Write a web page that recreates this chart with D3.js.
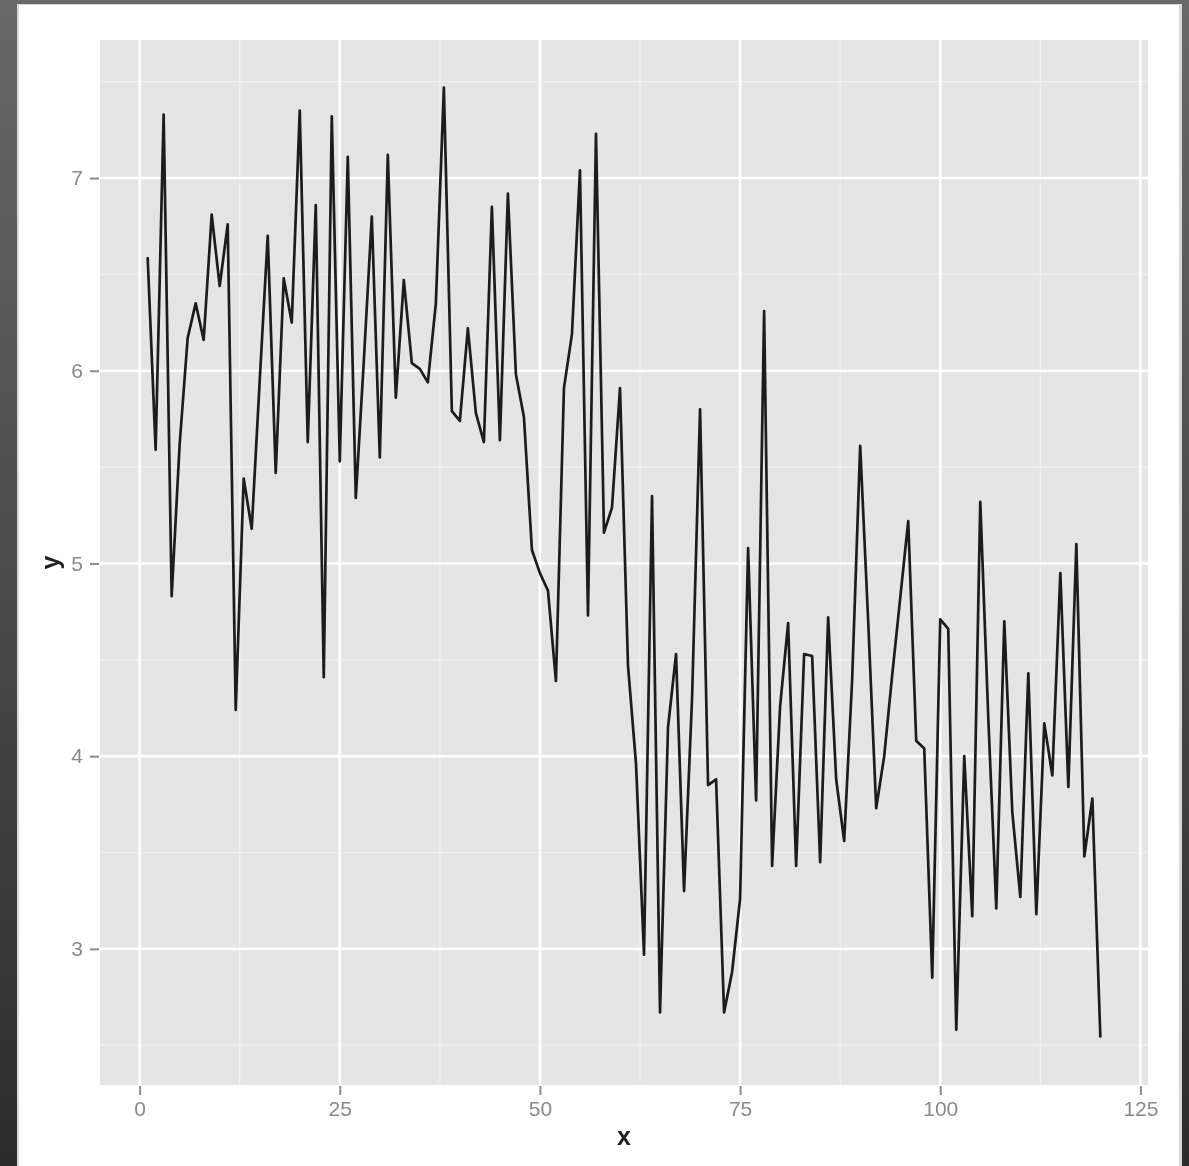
<!DOCTYPE html>
<html>
<head>
<meta charset="utf-8">
<script src="https://cdn.jsdelivr.net/npm/d3@7"></script>
<style>
  html, body { margin: 0; padding: 0; background: #444; }
  svg { display: block; filter: blur(0.55px); }
</style>
</head>
<body>
<svg id="chart" width="1189" height="1166"></svg>
<script>
// ---- data ----
const xValues = d3.range(1, 121);
const yValues = [
  6.59, 5.59, 7.33, 4.83, 5.62, 6.17, 6.35, 6.16, 6.81, 6.44,
  6.76, 4.24, 5.44, 5.18, 5.95, 6.70, 5.47, 6.48, 6.25, 7.35,
  5.63, 6.86, 4.41, 7.32, 5.53, 7.11, 5.34, 6.05, 6.80, 5.55,
  7.12, 5.86, 6.47, 6.04, 6.01, 5.94, 6.35, 7.47, 5.79, 5.74,
  6.22, 5.78, 5.63, 6.85, 5.64, 6.92, 5.98, 5.76, 5.07, 4.95,
  4.86, 4.39, 5.91, 6.19, 7.04, 4.73, 7.23, 5.16, 5.29, 5.91,
  4.47, 3.96, 2.97, 5.35, 2.67, 4.15, 4.53, 3.30, 4.30, 5.80,
  3.85, 3.88, 2.67, 2.88, 3.26, 5.08, 3.77, 6.31, 3.43, 4.26,
  4.69, 3.43, 4.53, 4.52, 3.45, 4.72, 3.88, 3.56, 4.40, 5.61,
  4.70, 3.73, 4.00, 4.42, 4.82, 5.22, 4.08, 4.04, 2.85, 4.71,
  4.66, 2.58, 4.00, 3.17, 5.32, 4.20, 3.21, 4.70, 3.71, 3.27,
  4.43, 3.18, 4.17, 3.90, 4.95, 3.84, 5.10, 3.48, 3.78, 2.54
];
const xTicks = [0, 25, 50, 75, 100, 125];
const xMinorTicks = [12.5, 37.5, 62.5, 87.5, 112.5];
const yTicks = [3, 4, 5, 6, 7];
const yMinorTicks = [2.5, 3.5, 4.5, 5.5, 6.5, 7.5];
const xTitle = "x";
const yTitle = "y";

// ---- layout ----
const W = 1189, H = 1166;
const panel = { left: 100, top: 40, right: 1148, bottom: 1085 };

const svg = d3.select("#chart");
const defs = svg.append("defs");
const grad = defs.append("linearGradient").attr("id", "bg").attr("x1", 0).attr("y1", 0).attr("x2", 0).attr("y2", 1);
grad.append("stop").attr("offset", "0%").attr("stop-color", "#686868");
grad.append("stop").attr("offset", "100%").attr("stop-color", "#2c2c2c");

svg.append("rect").attr("width", W).attr("height", H).attr("fill", "url(#bg)");
svg.append("rect").attr("x", 17).attr("y", 4).attr("width", 1165).attr("height", H - 4).attr("fill", "#d8d8d8");
svg.append("rect").attr("x", 19).attr("y", 5).attr("width", 1160).attr("height", H - 5).attr("fill", "#ffffff");

function expand(ext) {
  const r = ext[1] - ext[0];
  return [ext[0] - 0.05 * r, ext[1] + 0.05 * r];
}
const x = d3.scaleLinear().domain(expand(d3.extent(xValues))).range([panel.left, panel.right]);
const y = d3.scaleLinear().domain(expand(d3.extent(yValues))).range([panel.bottom, panel.top]);

const g = svg.append("g");
g.append("rect")
  .attr("x", panel.left).attr("y", panel.top)
  .attr("width", panel.right - panel.left).attr("height", panel.bottom - panel.top)
  .attr("fill", "#e5e5e5");

// minor grid
g.selectAll(".xminor").data(xMinorTicks).join("line")
  .attr("x1", d => x(d)).attr("x2", d => x(d))
  .attr("y1", panel.top).attr("y2", panel.bottom)
  .attr("stroke", "#f0f0f0").attr("stroke-width", 1.2);
g.selectAll(".yminor").data(yMinorTicks).join("line")
  .attr("y1", d => y(d)).attr("y2", d => y(d))
  .attr("x1", panel.left).attr("x2", panel.right)
  .attr("stroke", "#f0f0f0").attr("stroke-width", 1.2);
// major grid
g.selectAll(".xmajor").data(xTicks).join("line")
  .attr("x1", d => x(d)).attr("x2", d => x(d))
  .attr("y1", panel.top).attr("y2", panel.bottom)
  .attr("stroke", "#ffffff").attr("stroke-width", 2.6);
g.selectAll(".ymajor").data(yTicks).join("line")
  .attr("y1", d => y(d)).attr("y2", d => y(d))
  .attr("x1", panel.left).attr("x2", panel.right)
  .attr("stroke", "#ffffff").attr("stroke-width", 2.6);

// line
const line = d3.line().x((d, i) => x(xValues[i])).y(d => y(d));
g.append("path").datum(yValues)
  .attr("d", line)
  .attr("fill", "none")
  .attr("stroke", "#1c1c1c")
  .attr("stroke-width", 2.7)
  .attr("stroke-linejoin", "round");

// axes
const xAxis = d3.axisBottom(x).tickValues(xTicks).tickSize(9).tickPadding(6).tickFormat(d3.format("d"));
const xa = svg.append("g").attr("transform", `translate(0,${panel.bottom + 1})`).call(xAxis);
xa.select(".domain").remove();
xa.selectAll("line").attr("stroke", "#8c8c8c").attr("stroke-width", 2);
xa.selectAll("text").attr("fill", "#8a8a8a").attr("font-size", 21)
  .attr("font-family", "Liberation Sans, Arial, sans-serif");

const yAxis = d3.axisLeft(y).tickValues(yTicks).tickSize(9).tickPadding(7).tickFormat(d3.format("d"));
const ya = svg.append("g").attr("transform", `translate(${panel.left - 1},0)`).call(yAxis);
ya.select(".domain").remove();
ya.selectAll("line").attr("stroke", "#8c8c8c").attr("stroke-width", 2);
ya.selectAll("text").attr("fill", "#8a8a8a").attr("font-size", 21)
  .attr("font-family", "Liberation Sans, Arial, sans-serif");

// titles
svg.append("text").attr("x", (panel.left + panel.right) / 2).attr("y", 1145)
  .attr("text-anchor", "middle").attr("font-size", 25).attr("font-weight", "bold")
  .attr("fill", "#222").attr("font-family", "Liberation Sans, Arial, sans-serif").text(xTitle);
svg.append("text").attr("transform", `translate(59,${(panel.top + panel.bottom) / 2}) rotate(-90)`)
  .attr("text-anchor", "middle").attr("font-size", 25).attr("font-weight", "bold")
  .attr("fill", "#222").attr("font-family", "Liberation Sans, Arial, sans-serif").text(yTitle);
</script>
</body>
</html>
